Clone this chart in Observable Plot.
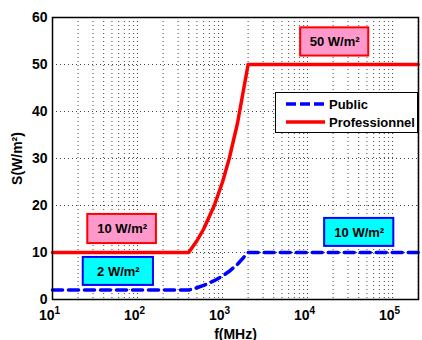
<!DOCTYPE html>
<html>
<head>
<meta charset="utf-8">
<script src="https://cdn.jsdelivr.net/npm/d3@7"></script>
<script src="https://cdn.jsdelivr.net/npm/@observablehq/plot@0.6"></script>
<style>
  html, body { margin: 0; padding: 0; background: #fff; }
  #wrap { position: relative; width: 422px; height: 340px; font-family: "Liberation Sans", Arial, sans-serif; font-weight: bold; }
  #legend { position: absolute; left: 275px; top: 92px; width: 143px; height: 41px; background: #fff; border: 1px solid #000; box-sizing: border-box; font-size: 13px; }
  #legend .row { position: absolute; left: 9px; display: flex; align-items: center; height: 16px; }
  #legend svg { margin-right: 3px; }
</style>
</head>
<body>
<div id="wrap"></div>
<script>
// Data
const freqPublic = [10, 400, 500, 600, 800, 1000, 1200, 1500, 2000, 200000];
const sPublic    = [2, 2, 2.5, 3, 4, 5, 6, 7.5, 10, 10];
const freqPro    = [10, 400, 500, 600, 800, 1000, 1200, 1500, 2000, 200000];
const sPro       = [10, 10, 12.5, 15, 20, 25, 30, 37.5, 50, 50];
const seriesNames = ["Public", "Professionnel"];
const xTicks = [10, 100, 1000, 10000, 100000];
const xTickExp = ["1", "2", "3", "4", "5"];
const yTicks = [0, 10, 20, 30, 40, 50, 60];
const boxLabels = ["50 W/m²", "10 W/m²", "2 W/m²", "10 W/m²"];
const boxKinds  = ["pro", "pro", "public", "public"];
const boxF1 = [8300, 26, 23, 15900];
const boxF2 = [52500, 167, 154, 103500];
const boxS1 = [51.8, 11.9, 3.0, 11.3];
const boxS2 = [57.8, 18.1, 8.95, 17.25];

const xDomain = [10, 2.02e5];
const pub = freqPublic.map((f, i) => ({f, s: sPublic[i]}));
const pro = freqPro.map((f, i) => ({f, s: sPro[i]}));
const boxes = boxLabels.map((t, i) => ({text: t, kind: boxKinds[i], f1: boxF1[i], f2: boxF2[i], s1: boxS1[i], s2: boxS2[i]}));
const gridX = d3.scaleLog().domain(xDomain).ticks().filter(v => v > xDomain[0] && v < xDomain[1]);
const gridY = yTicks.filter(v => v > 0 && v < 60);

const chart = Plot.plot({
  width: 422, height: 340,
  marginLeft: 52, marginRight: 4, marginTop: 17, marginBottom: 41,
  style: {fontFamily: "'Liberation Sans', Arial, sans-serif", fontWeight: "bold", fontSize: "13px", color: "#000", background: "#fff"},
  x: {type: "log", domain: xDomain},
  y: {domain: [0, 60]},
  marks: [
    Plot.ruleX(gridX, {stroke: "#444", strokeDasharray: "1,3", strokeWidth: 1}),
    Plot.ruleY(gridY, {stroke: "#444", strokeDasharray: "1,3", strokeWidth: 1}),
    Plot.axisX({ticks: xTicks, tickFormat: () => "10", tickSize: 0, tickPadding: 11, fontSize: 14, label: "f(MHz)", labelAnchor: "center", labelOffset: 39, labelArrow: "none"}),
    Plot.axisY({ticks: yTicks, tickSize: 0, tickPadding: 5, fontSize: 14, label: "S(W/m²)", labelAnchor: "center", labelOffset: 40, labelArrow: "none"}),
    Plot.line(pro, {x: "f", y: "s", stroke: "#ff0000", strokeWidth: 3.5}),
    Plot.line(pub, {x: "f", y: "s", stroke: "#0000ff", strokeWidth: 3.5, strokeDasharray: "10,6"}),
    Plot.rect(boxes, {x1: "f1", x2: "f2", y1: "s1", y2: "s2", fill: d => d.kind === "pro" ? "#ff99cc" : "#00ffff", stroke: d => d.kind === "pro" ? "#ff0000" : "#0000ff", strokeWidth: 2}),
    Plot.text(boxes, {x: d => Math.sqrt(d.f1 * d.f2), y: d => (d.s1 + d.s2) / 2, text: "text", fontSize: 13, fontWeight: "bold", fill: "#000"}),
    Plot.frame({stroke: "#000", strokeWidth: 1.5})
  ]
});

// superscript exponents on the log axis
d3.select(chart).selectAll('[aria-label="x-axis tick label"] text').each(function(d, i) {
  const t = d3.select(this);
  t.text("10").attr("dx", "-3");
  t.append("tspan").attr("dy", "-6").attr("font-size", "10").text(xTickExp[i]);
});

const wrap = document.getElementById("wrap");
wrap.appendChild(chart);

const legend = document.createElement("div");
legend.id = "legend";
legend.innerHTML =
  `<div class="row" style="top:3px"><svg width="41" height="6"><line x1="1" x2="40" y1="3" y2="3" stroke="#0000ff" stroke-width="3.5" stroke-dasharray="10,4"/></svg><span>${seriesNames[0]}</span></div>` +
  `<div class="row" style="top:21px"><svg width="41" height="6"><line x1="1" x2="40" y1="3" y2="3" stroke="#ff0000" stroke-width="3.5"/></svg><span>${seriesNames[1]}</span></div>`;
wrap.appendChild(legend);
</script>
</body>
</html>
